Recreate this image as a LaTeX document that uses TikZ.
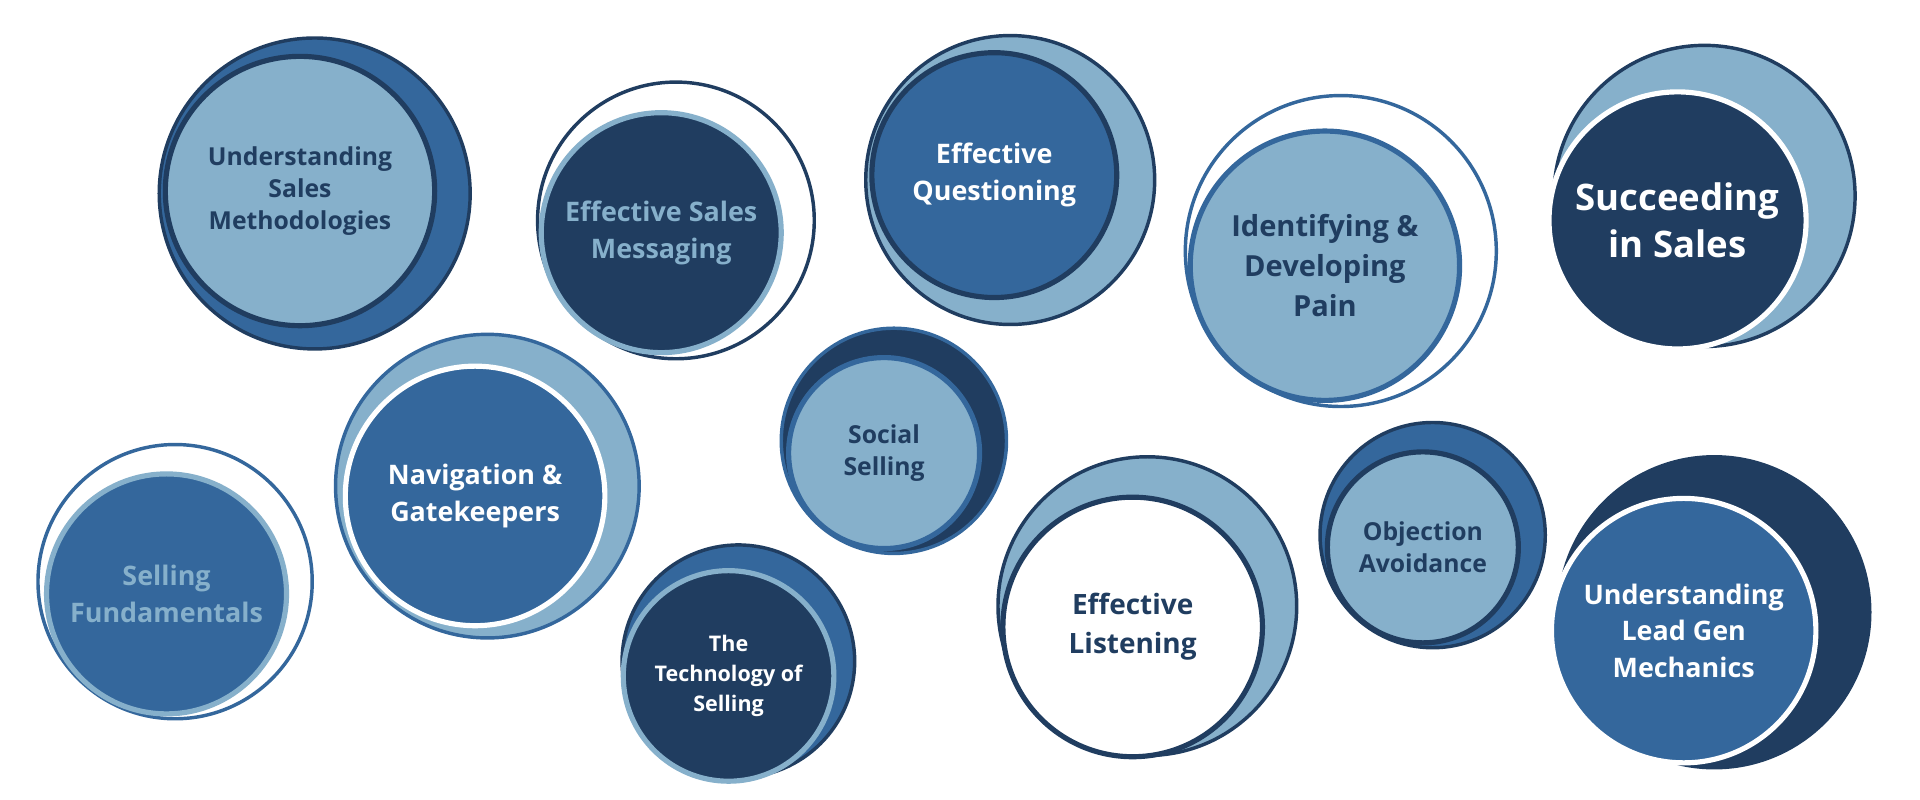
\documentclass[tikz,border=0pt]{standalone}
\usepackage{fontspec}
\setmainfont{Open Sans}
\definecolor{navy}{HTML}{203D60}
\definecolor{midblue}{HTML}{34679C}
\definecolor{lightblue}{HTML}{86B0CB}
\tikzset{outer/.append style={circle, draw, line width=1.6pt, inner sep=0pt}}
\tikzset{inner/.append style={circle, draw, line width=2.4pt, inner sep=0pt, align=center, font=\bfseries\fontsize{11.5}{15}\selectfont}}

\begin{document}
\begin{tikzpicture}[x=0.02cm,y=-0.02cm]
                \useasboundingbox (0,0) rectangle (1568,653);
                % Understanding Sales Methodologies
                \node[outer, draw=navy, fill=midblue, minimum size=5.08cm] (usmo) at (257,158) {};
                \node[inner, draw=navy, fill=lightblue, text=navy, minimum size=4.4cm] (usm) at (245,156) {Understanding\\Sales\\Methodologies};
                % Effective Sales Messaging
                \node[outer, draw=navy, fill=white, minimum size=4.52cm] (esmo) at (552,180) {};
                \node[inner, draw=lightblue, fill=navy, text=lightblue, minimum size=3.92cm, font=\bfseries\fontsize{12.5}{17}\selectfont] (esm) at (540,190) {Effective Sales\\Messaging};
                % Effective Questioning
                \node[outer, draw=navy, fill=lightblue, minimum size=4.72cm] (eqo) at (825,147) {};
                \node[inner, draw=navy, fill=midblue, text=white, minimum size=4.0cm, font=\bfseries\fontsize{12.5}{17}\selectfont] (eq) at (812,143) {Effective\\Questioning};
                % Identifying & Developing Pain
                \node[outer, draw=midblue, fill=white, minimum size=5.08cm] (idpo) at (1095,205) {};
                \node[inner, draw=midblue, fill=lightblue, text=navy, minimum size=4.4cm, font=\bfseries\fontsize{13.5}{18.5}\selectfont] (idp) at (1082,217) {Identifying \&\\Developing\\Pain};
                % Succeeding in Sales
                \node[outer, draw=navy, fill=lightblue, minimum size=4.92cm] (sso) at (1392,160) {};
                \node[inner, draw=white, fill=navy, text=white, minimum size=4.2cm, font=\bfseries\fontsize{17}{22}\selectfont] (ss) at (1370,180) {Succeeding\\in Sales};
                % Selling Fundamentals
                \node[outer, draw=midblue, fill=white, minimum size=4.48cm] (sfo) at (143,475) {};
                \node[inner, draw=lightblue, fill=midblue, text=lightblue, minimum size=3.92cm, font=\bfseries\fontsize{12.5}{17}\selectfont] (sf) at (136,485) {Selling\\Fundamentals};
                % Navigation & Gatekeepers
                \node[outer, draw=midblue, fill=lightblue, minimum size=4.96cm] (ngo) at (398,397) {};
                \node[inner, draw=white, fill=midblue, text=white, minimum size=4.24cm, font=\bfseries\fontsize{12.5}{17}\selectfont] (ng) at (388,405) {Navigation \&\\Gatekeepers};
                % The Technology of Selling
                \node[outer, draw=navy, fill=midblue, minimum size=3.8cm] (tso) at (603,540) {};
                \node[inner, draw=lightblue, fill=navy, text=white, minimum size=3.44cm, font=\bfseries\fontsize{10}{14}\selectfont] (ts) at (595,552) {The\\Technology of\\Selling};
                % Social Selling
                \node[outer, draw=midblue, fill=navy, minimum size=3.68cm] (soso) at (730,360) {};
                \node[inner, draw=midblue, fill=lightblue, text=navy, minimum size=3.12cm] (sos) at (722,370) {Social\\Selling};
                % Effective Listening
                \node[outer, draw=navy, fill=lightblue, minimum size=4.88cm] (elo) at (937,495) {};
                \node[inner, draw=navy, fill=white, text=navy, minimum size=4.24cm, font=\bfseries\fontsize{13}{18}\selectfont] (el) at (925,512) {Effective\\Listening};
                % Objection Avoidance
                \node[outer, draw=navy, fill=midblue, minimum size=3.68cm] (oao) at (1170,437) {};
                \node[inner, draw=navy, fill=lightblue, text=navy, minimum size=3.12cm] (oa) at (1162,447) {Objection\\Avoidance};
                % Understanding Lead Gen Mechanics
                \node[outer, draw=navy, fill=navy, minimum size=5.08cm] (ulgo) at (1400,500) {};
                \node[inner, draw=white, fill=midblue, text=white, minimum size=4.32cm, font=\bfseries\fontsize{12.5}{17}\selectfont] (ulg) at (1375,515) {Understanding\\Lead Gen\\Mechanics};
            \end{tikzpicture}
\end{document}
